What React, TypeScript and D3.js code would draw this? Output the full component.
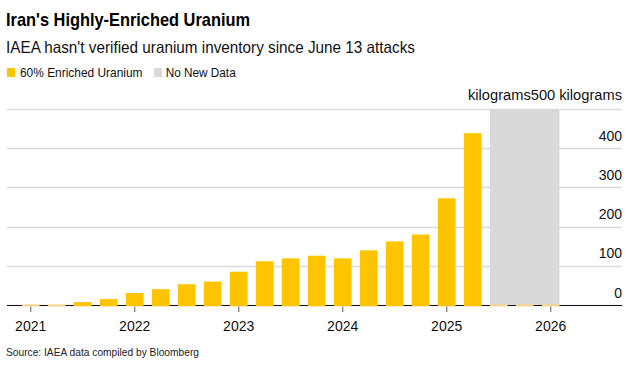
import React from "react";
import * as d3 from "d3";

const periods = [
  "2021 Q1", "2021 Q2", "2021 Q3", "2021 Q4",
  "2022 Q1", "2022 Q2", "2022 Q3", "2022 Q4",
  "2023 Q1", "2023 Q2", "2023 Q3", "2023 Q4",
  "2024 Q1", "2024 Q2", "2024 Q3", "2024 Q4",
  "2025 Q1", "2025 Q2", "2025 Q3", "2025 Q4",
  "2026 Q1",
];
const uranium60 = [
  0, 2.4, 10, 17.7,
  33.2, 43.1, 55.6, 62.3,
  87.5, 114.1, 121.6, 128.3,
  121.5, 142.1, 164.7, 182.3,
  274.8, 440.9, 0, 0,
  0,
];
const noNewDataPeriods = ["2025 Q3", "2025 Q4", "2026 Q1"];
const yearTicks = ["2021 Q1", "2022 Q1", "2023 Q1", "2024 Q1", "2025 Q1", "2026 Q1"];
const yearLabels = ["2021", "2022", "2023", "2024", "2025", "2026"];
const yTicks = [0, 100, 200, 300, 400, 500];

const W = 635;
const H = 378;
const YELLOW = "#ffc400";
const YELLOW_THIN = "#f7d47c";
const GRAY = "#d9d9d9";
const FONT = "'Liberation Sans', Arial, sans-serif";

export default function App() {
  const x = d3
    .scaleBand<string>()
    .domain(periods)
    .range([17.7, 17.7 + 21 * 26])
    .paddingInner(0.32)
    .paddingOuter(0.16);
  const y = d3.scaleLinear().domain([0, 500]).range([306, 110]);
  const gridLeft = 7;
  const gridRight = 622;
  const baseY = 305.5;

  const bandStart = x(noNewDataPeriods[0])!;
  const bandEnd = x(noNewDataPeriods[noNewDataPeriods.length - 1])! + x.bandwidth();

  return (
    <svg
      width={W}
      height={H}
      style={{ position: "absolute", left: 0, top: 0, background: "#fff" }}
      fontFamily={FONT}
    >
      <text x={6} y={26} fontSize={18.5} fontWeight="bold" fill="#000" textLength={244} lengthAdjust="spacingAndGlyphs">
        Iran's Highly-Enriched Uranium
      </text>
      <text x={6} y={52.5} fontSize={16.5} fill="#111" textLength={409} lengthAdjust="spacingAndGlyphs">
        IAEA hasn't verified uranium inventory since June 13 attacks
      </text>
      <rect x={7} y={68} width={8} height={9} fill={YELLOW} />
      <text x={20} y={77} fontSize={13} fill="#111" textLength={122.5} lengthAdjust="spacingAndGlyphs">
        60% Enriched Uranium
      </text>
      <rect x={154} y={68} width={8} height={9} fill={GRAY} />
      <text x={165.7} y={77} fontSize={13} fill="#111" textLength={70} lengthAdjust="spacingAndGlyphs">
        No New Data
      </text>

      {yTicks.map((t) => (
        <line
          key={"g" + t}
          x1={gridLeft}
          x2={gridRight}
          y1={Math.round(y(t)) - 0.5}
          y2={Math.round(y(t)) - 0.5}
          stroke="#dcdcdc"
          strokeWidth={1.3}
        />
      ))}

      <rect x={bandStart} y={y(500)} width={bandEnd - bandStart} height={baseY - y(500)} fill={GRAY} />

      <line x1={gridLeft} x2={gridRight} y1={baseY} y2={baseY} stroke="#111" strokeWidth={1.2} />

      {yearTicks.map((p, i) => {
        const cx = x(p)! + x.bandwidth() / 2;
        return (
          <g key={p}>
            <line x1={cx} x2={cx} y1={306.5} y2={312} stroke="#888" strokeWidth={1.4} />
            <text x={cx} y={330.7} fontSize={14} textAnchor="middle" fill="#111">
              {yearLabels[i]}
            </text>
          </g>
        );
      })}

      {periods.map((p, i) => {
        const top = Math.min(y(uranium60[i]), 304.5);
        return (
          <rect
            key={p}
            x={x(p)}
            y={top}
            width={x.bandwidth()}
            height={306.2 - top}
            fill={uranium60[i] < 3 ? YELLOW_THIN : YELLOW}
          />
        );
      })}

      {yTicks.map((t) =>
        t === 500 ? (
          <text key={"l" + t} x={gridRight} y={y(t) - 10} fontSize={14} textAnchor="end" fill="#111" textLength={154} lengthAdjust="spacingAndGlyphs">
            kilograms500 kilograms
          </text>
        ) : (
          <text key={"l" + t} x={gridRight} y={y(t) - 8.5} fontSize={14} textAnchor="end" fill="#111">
            {t}
          </text>
        )
      )}

      <text x={6} y={355.7} fontSize={11.5} fill="#222" textLength={193} lengthAdjust="spacingAndGlyphs">
        Source: IAEA data compiled by Bloomberg
      </text>
    </svg>
  );
}
